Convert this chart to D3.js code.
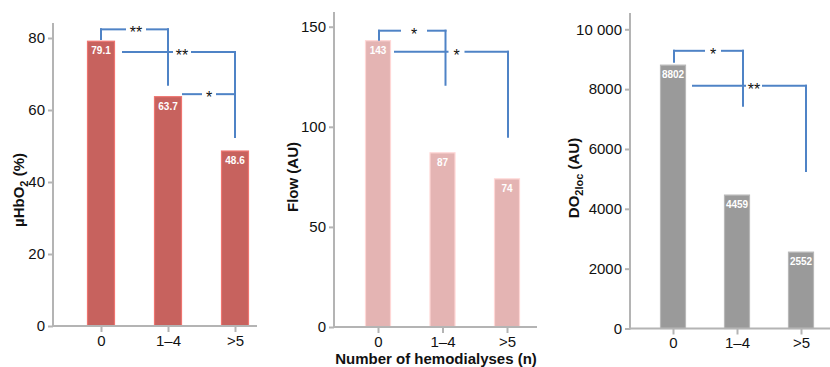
<!DOCTYPE html>
<html><head><meta charset="utf-8">
<script src="https://cdn.jsdelivr.net/npm/d3@7"></script>
<style>
body{margin:0;background:#fff;}
svg{display:block;}
text{font-family:"Liberation Sans",Arial,sans-serif;}
</style></head>
<body><svg id="c" width="830" height="367"></svg>
<script>
const categories = ["0", "1–4", ">5"];
const muhbo2Values = [79.1, 63.7, 48.6];
const flowValues = [143, 87, 74];
const do2Values = [8802, 4459, 2552];
const muhbo2Ticks = [0, 20, 40, 60, 80];
const flowTicks = [0, 50, 100, 150];
const do2Ticks = [0, 2000, 4000, 6000, 8000, 10000];
const do2TickLabels = ["0", "2000", "4000", "6000", "8000", "10 000"];
const xAxisTitle = "Number of hemodialyses (n)";

const svg = d3.select("#c");
const axisColor = "#b4b4b4";
const bracketColor = "#4f83c6";

function panel(cfg) {
  const g = svg.append("g");
  const y = d3.scaleLinear().domain([0, cfg.ymax]).range([cfg.y0, cfg.yTop]);
  const x = d3.scalePoint().domain(categories).range(cfg.xr);
  // bars
  g.selectAll("rect.bar").data(cfg.values).enter().append("rect")
    .attr("x", (d, i) => x(categories[i]) - cfg.bw / 2)
    .attr("y", d => y(d))
    .attr("width", cfg.bw)
    .attr("height", d => y(0) - y(d))
    .attr("fill", cfg.color)
    .attr("stroke", d3.color(cfg.color).brighter(0.5))
    .attr("stroke-width", 1.2);
  g.selectAll("text.val").data(cfg.values).enter().append("text")
    .attr("x", (d, i) => x(categories[i]))
    .attr("y", d => y(d) + 13)
    .attr("text-anchor", "middle")
    .attr("fill", "#fff")
    .attr("font-weight", "bold")
    .attr("font-size", 10)
    .text(d => d);
  // y axis
  const ya = g.append("g").attr("transform", `translate(${cfg.xAxis0},0)`)
    .call(d3.axisLeft(y).tickValues(cfg.ticks).tickSize(5).tickPadding(3)
      .tickFormat((d, i) => cfg.tickLabels ? cfg.tickLabels[i] : d));
  ya.select(".domain").remove();
  ya.selectAll("line").attr("stroke", axisColor).attr("stroke-width", 2);
  ya.selectAll("text").attr("font-size", 15).attr("fill", "#111");
  g.append("line").attr("x1", cfg.xAxis0).attr("x2", cfg.xAxis0)
    .attr("y1", cfg.y0 + 1).attr("y2", cfg.axisTop)
    .attr("stroke", axisColor).attr("stroke-width", 2);
  // x axis
  const xa = g.append("g").attr("transform", `translate(0,${cfg.y0})`)
    .call(d3.axisBottom(x).tickSize(6).tickPadding(3));
  xa.select(".domain").remove();
  xa.selectAll("line").attr("stroke", axisColor).attr("stroke-width", 2);
  xa.selectAll("text").attr("font-size", 15).attr("fill", "#111");
  g.append("line").attr("x1", cfg.xAxis0 - 1).attr("x2", cfg.xAxisEnd)
    .attr("y1", cfg.y0).attr("y2", cfg.y0)
    .attr("stroke", axisColor).attr("stroke-width", 2);
  // y title
  const t = g.append("text")
    .attr("transform", `translate(${cfg.titleX},${cfg.titleY}) rotate(-90)`)
    .attr("text-anchor", "middle")
    .attr("font-weight", "bold").attr("font-size", 15).attr("fill", "#111");
  t.append("tspan").text(cfg.title[0]);
  if (cfg.title[1]) {
    t.append("tspan").attr("font-size", 11).attr("dy", 4).text(cfg.title[1]);
    t.append("tspan").attr("dy", -4).text(cfg.title[2]);
  }
  // brackets
  cfg.brackets.forEach(b => {
    const x1 = x(categories[b.from]) + b.dx1;
    const x2 = x(categories[b.to]) + b.dx2;
    const yl = y(b.level);
    const lx = x(categories[b.labelAt]) + b.ldx;
    const segs = [[x1, yl, lx - b.gap, yl], [lx + b.gap, yl, x2, yl]];
    if (b.leftDrop != null) segs.push([x1, yl, x1, y(b.leftDrop)]);
    if (b.rightDrop != null) segs.push([x2, yl, x2, y(b.rightDrop)]);
    segs.forEach(s => g.append("line")
      .attr("x1", s[0]).attr("y1", s[1]).attr("x2", s[2]).attr("y2", s[3])
      .attr("stroke", bracketColor).attr("stroke-width", 2)
      .attr("stroke-linecap", "square"));
    g.append("text").attr("x", lx).attr("y", yl + 9)
      .attr("text-anchor", "middle").attr("font-size", 16).attr("fill", "#111")
      .text(b.label);
  });
}

panel({
  values: muhbo2Values, ticks: muhbo2Ticks, ymax: 80, y0: 326, yTop: 38, axisTop: 23,
  xAxis0: 53, xAxisEnd: 257, xr: [101, 235], bw: 27, color: "#c7625e",
  title: ["µHbO", "2", " (%)"], titleX: 24, titleY: 190,
  brackets: [
    {from: 0, to: 1, dx1: 0, dx2: 0, level: 82.4, leftDrop: 79.7, rightDrop: 67, label: "**", labelAt: 0, ldx: 35, gap: 11},
    {from: 0, to: 2, dx1: 22, dx2: 0, level: 76.1, rightDrop: 52.5, label: "**", labelAt: 1, ldx: 14, gap: 10},
    {from: 1, to: 2, dx1: 15, dx2: 0, level: 64.4, label: "*", labelAt: 1, ldx: 41, gap: 8}
  ]
});
panel({
  values: flowValues, ticks: flowTicks, ymax: 150, y0: 327, yTop: 26.7, axisTop: 12,
  xAxis0: 334, xAxisEnd: 537, xr: [378, 507], bw: 25, color: "#e4b4b3",
  title: ["Flow (AU)"], titleX: 298, titleY: 177,
  brackets: [
    {from: 0, to: 1, dx1: 1, dx2: 3, level: 148, leftDrop: 143.5, rightDrop: 121, label: "*", labelAt: 0, ldx: 36, gap: 14},
    {from: 0, to: 2, dx1: 17, dx2: 1, level: 137.5, rightDrop: 95, label: "*", labelAt: 1, ldx: 14, gap: 9}
  ]
});
panel({
  values: do2Values, ticks: do2Ticks, tickLabels: do2TickLabels, ymax: 10000, y0: 328.5, yTop: 29.3, axisTop: 13,
  xAxis0: 630, xAxisEnd: 830, xr: [673, 801], bw: 25, color: "#9a9a9a",
  title: ["DO", "2loc", " (AU)"], titleX: 579, titleY: 178,
  brackets: [
    {from: 0, to: 1, dx1: 1, dx2: 6, level: 9281, leftDrop: 8913, rightDrop: 7441, label: "*", labelAt: 0, ldx: 40, gap: 9},
    {from: 0, to: 2, dx1: 20, dx2: 5, level: 8110, rightDrop: 5268, label: "**", labelAt: 1, ldx: 17, gap: 9}
  ]
});

svg.append("text").attr("x", 436).attr("y", 364).attr("text-anchor", "middle")
  .attr("font-weight", "bold").attr("font-size", 15).attr("fill", "#111")
  .text(xAxisTitle);
</script></body></html>
